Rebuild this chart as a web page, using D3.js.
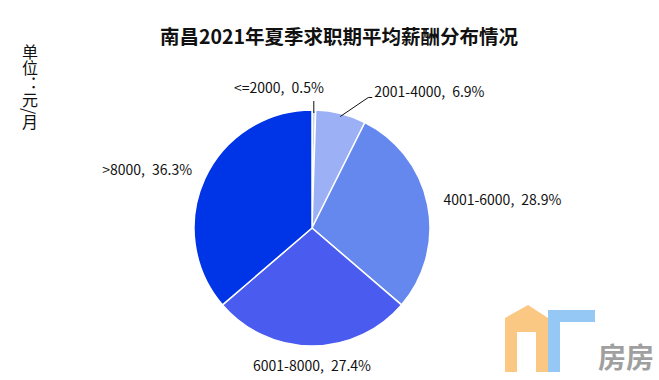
<!DOCTYPE html>
<html><head><meta charset="utf-8">
<script src="https://cdn.jsdelivr.net/npm/d3@7"></script>
<style>
html,body{margin:0;padding:0;background:#fff;}
svg{display:block;font-family:"Noto Sans CJK SC","Microsoft YaHei",sans-serif;}
</style></head>
<body>
<svg id="chart" width="659" height="380"></svg>
<script>
const categories = ["<=2000", "2001-4000", "4001-6000", "6001-8000", ">8000"];
const shares = [0.5, 6.9, 28.9, 27.4, 36.3];
const colors = ["#c9d3f6", "#9cb0f6", "#6588ef", "#4a5cf0", "#0034e7"];
const titleText = "南昌2021年夏季求职期平均薪酬分布情况";
const unitText = "单位：元/月";

const W = 659, H = 380;
const cx = 312, cy = 228, R = 118;
const svg = d3.select("#chart");

svg.append("text").attr("x", 339).attr("y", 44)
  .attr("text-anchor", "middle").attr("font-size", 19.5).attr("font-weight", "bold")
  .attr("fill", "#111").text(titleText);

svg.append("text").attr("x", 30).attr("y", 44)
  .style("writing-mode", "vertical-rl")
  .attr("font-size", 16).attr("fill", "#111").text(unitText);

const data = categories.map((c, i) => ({cat: c, v: shares[i], color: colors[i]}));
const pie = d3.pie().value(d => d.v).sort(null);
const arcs = pie(data);
const arc = d3.arc().innerRadius(0).outerRadius(R);

const g = svg.append("g").attr("transform", `translate(${cx},${cy})`);
g.selectAll("path").data(arcs).join("path")
  .attr("d", arc).attr("fill", d => d.data.color)
  .attr("stroke", "#fff").attr("stroke-width", 1.5).attr("stroke-linejoin", "round");

// label layout
const pt = (a, r) => [r * Math.sin(a), -r * Math.cos(a)];
const labelLayout = [
  {lead: true, ex: 0, ey: -12, dx: 0, tx: 10, ty: -13, anchor: "end"},
  {lead: true, ex: 28, ey: -19, dx: 4, tx: 2, ty: -5, anchor: "start"},
  {lead: false, off: 16, anchor: "start", ty: -2},
  {lead: false, off: 20, anchor: "middle", ty: 0},
  {lead: false, off: 14, anchor: "end", ty: -3}
];
arcs.forEach((a, i) => {
  const mid = (a.startAngle + a.endAngle) / 2;
  const L = labelLayout[i];
  const label = `${a.data.cat},\u2002${a.data.v.toFixed(1)}%`;
  let tx, ty;
  if (L.lead) {
    const p0 = pt(mid, R - 3);
    const p1 = [p0[0] + L.ex, p0[1] + L.ey];
    const p2 = [p1[0] + L.dx, p1[1]];
    g.append("polyline")
      .attr("points", [p0, p1, p2].map(p => p.join(",")).join(" "))
      .attr("fill", "none").attr("stroke", "#111").attr("stroke-width", 1);
    tx = p2[0] + L.tx; ty = p2[1] + L.ty;
  } else {
    const p = pt(mid, R + L.off);
    tx = p[0]; ty = p[1] + L.ty;
  }
  g.append("text").attr("x", tx).attr("y", ty)
    .attr("dy", "0.35em").attr("text-anchor", L.anchor)
    .attr("font-size", 14).attr("fill", "#111").text(label);
});

// watermark (decorative)
const wm = svg.append("g").attr("opacity", 0.7);
wm.append("path").attr("d", "M505,372 L505,318 L528,305 L548,318 L548,372 L536,372 L536,332 L517,332 L517,372 Z")
  .attr("fill", "#f9b24f");
wm.append("path").attr("d", "M548,310 L595,310 L595,322 L560,322 L560,372 L548,372 Z").attr("fill", "#6ab2f2");
wm.append("text").attr("x", 626).attr("y", 368).attr("font-size", 28).attr("font-weight", "bold")
  .attr("fill", "#777").attr("text-anchor", "middle").text("房房");
</script>
</body></html>
